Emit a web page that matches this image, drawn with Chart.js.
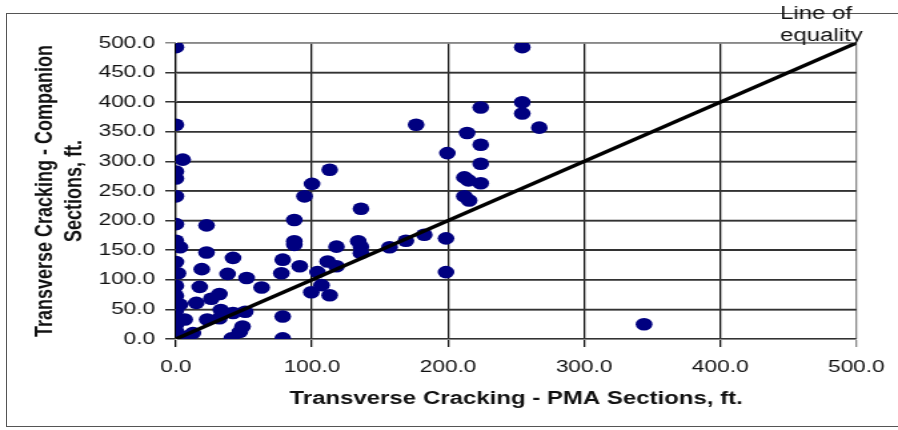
<!DOCTYPE html>
<html>
<head>
<meta charset="utf-8">
<script src="https://cdn.jsdelivr.net/npm/chart.js@4.4.1/dist/chart.umd.min.js"></script>
<style>
  body { margin: 0; background: #fff; overflow: hidden; }
  #frame { position: absolute; left: 6px; top: 13px; width: 1000px; height: 412px; border: 1.5px solid #555; }
  /* the original picture is stretched sideways, so the canvas is too */
  #wrap { position: absolute; left: 0; top: 0; width: 674px; height: 430px; transform: scaleX(1.33234); transform-origin: 0 0; }
</style>
</head>
<body>
<div id="frame"></div>
<div id="wrap"><canvas id="chart" width="674" height="430"></canvas></div>
<script>
// PMA section cracking (x) vs companion section cracking (y), ft.
const pmaFt = [
  0, 0, 5, 0, 0, 0, 0, 0, 3, 0, 1.5, 0, 0, 3, 0, 0, 6.5, 0, 0, 12.5, 8, 0, 3, 0,
  22.5, 22.5, 42, 19, 38, 52, 63, 17.5, 32, 26, 15, 33, 42, 51, 23, 32, 49, 47, 41,
  78.5, 77.5, 78.5, 78.5,
  94.5, 100, 113, 87, 87, 87, 91, 136, 134, 136, 136, 118, 157, 111.5, 118, 104, 107, 99.5, 113,
  169, 182.5, 198.5, 198.5,
  212, 215.5, 212, 215, 224, 224, 199.5, 224, 214, 267, 176.5, 254.5, 254.5, 224, 254.5,
  344
];
const companionFt = [
  493, 362, 303, 283, 271, 241, 194, 166, 155, 130, 111, 90, 73, 58, 48, 32, 33, 24, 13, 10, 4, 2, 0, 0,
  192, 146, 137, 118, 110, 103, 87, 88, 76, 68, 61, 49, 44, 46, 33, 35, 21, 12, 1,
  134, 111, 38, 1,
  241, 262, 286, 201, 165, 159, 123, 220, 165, 156, 145, 156, 155, 131, 123, 113, 91, 79, 74,
  166, 176, 170, 113,
  241, 234, 273, 268, 263, 296, 314, 328, 348, 357, 362, 381, 400, 391, 493,
  25
];
const equalityX = [0, 500];
const equalityY = [0, 500];
const yGridValues = [50, 100, 150, 200, 250, 300, 350, 400, 450, 500];
const xTitle = 'Transverse Cracking - PMA Sections, ft.';
const yTitle = ['Transverse Cracking - Companion', 'Sections, ft.'];
const lineLabel = ['Line of', 'equality'];

const points = pmaFt.map((x, i) => ({ x: x, y: companionFt[i] }));
const equality = equalityX.map((x, i) => ({ x: x, y: equalityY[i] }));

const FONT = '"Liberation Sans", Arial, sans-serif';

// grid colours per tick, the last one is the lighter outer edge
const xGrid = ['#000', '#111', '#111', '#111', '#111', '#888'];
const yGrid = ['#333', '#333', '#333', '#333', '#333', '#333', '#333', '#333', '#333', '#333', '#888'];

// horizontal grid rules as flat line series under the points
const gridSets = yGridValues.map(v => ({
    label: 'grid ' + v,
    data: equalityX.map(x => ({ x: x, y: v })),
    showLine: true,
    borderColor: v === 500 ? '#888' : '#333',
    borderWidth: 1.5,
    pointRadius: 0
}));

const titles = {
    id: 'titles',
    afterDraw(chart) {
        const ctx = chart.ctx;
        const area = chart.chartArea;
        ctx.save();
        ctx.fillStyle = '#111';

        // x title
        ctx.font = 'bold 18px ' + FONT;
        ctx.textAlign = 'center';
        ctx.textBaseline = 'alphabetic';
        ctx.fillText(xTitle, (area.left + area.right) / 2, 404);

        // y title, two lines
        ctx.textBaseline = 'middle';
        const midY = (area.top + area.bottom) / 2;
        [34, 56].forEach((x, i) => {
            ctx.save();
            ctx.translate(x, midY);
            ctx.rotate(-Math.PI / 2);
            ctx.fillText(yTitle[i], 0, 0);
            ctx.restore();
        });

        // label of the equality line
        ctx.font = '18px ' + FONT;
        ctx.textAlign = 'left';
        ctx.textBaseline = 'alphabetic';
        ctx.fillText(lineLabel[0], 585.5, 18.5);
        ctx.fillText(lineLabel[1], 585.5, 40.5);
        ctx.restore();
    }
};

new Chart(document.getElementById('chart'), {
    type: 'scatter',
    data: {
        datasets: [{
            label: 'Line of equality',
            data: equality,
            showLine: true,
            borderColor: '#000',
            borderWidth: 3.5,
            pointRadius: 0
        }, {
            label: 'Sections',
            data: points,
            backgroundColor: '#000080',
            borderColor: '#000080',
            borderWidth: 0,
            pointRadius: 6.3
        }].concat(gridSets)
    },
    options: {
        responsive: false,
        animation: false,
        devicePixelRatio: 1,
        layout: { padding: { top: 43, right: 30, left: 0, bottom: 0 } },
        plugins: {
            legend: { display: false },
            tooltip: { enabled: false }
        },
        scales: {
            x: {
                type: 'linear',
                min: 0,
                max: 500,
                afterFit: s => { s.height = 91; },
                ticks: {
                    stepSize: 100,
                    padding: 10,
                    color: '#111',
                    font: { family: FONT, size: 17 },
                    callback: v => v.toFixed(1)
                },
                grid: { color: xGrid, lineWidth: 1.3 }
            },
            y: {
                min: 0,
                max: 500,
                afterFit: s => { s.width = 132; },
                ticks: {
                    stepSize: 50,
                    padding: 7.5,
                    color: '#111',
                    font: { family: FONT, size: 17 },
                    callback: v => v.toFixed(1)
                },
                grid: { color: yGrid, lineWidth: 1.5 }
            }
        }
    },
    plugins: [titles]
});
</script>
</body>
</html>
